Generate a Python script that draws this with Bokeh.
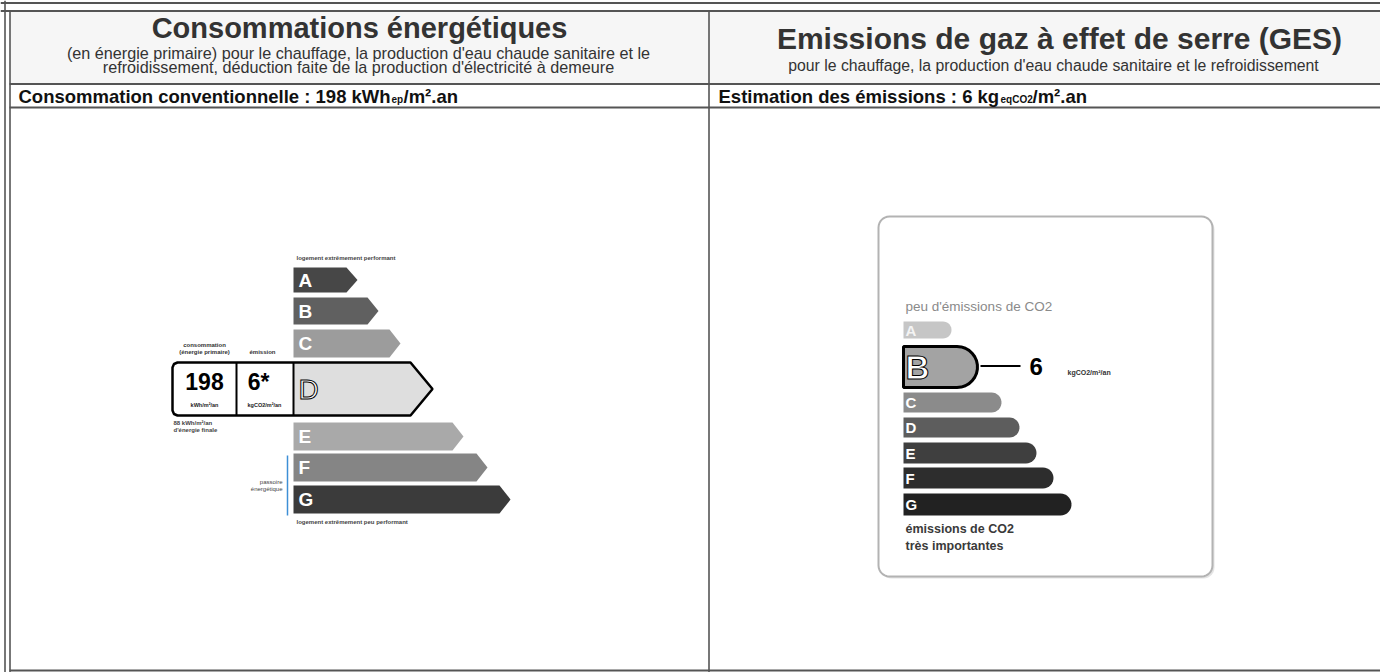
import numpy as np
from bokeh.plotting import figure
from bokeh.models import Range1d
from bokeh.core.properties import value
from bokeh.embed import file_html
from bokeh.resources import INLINE

# ---------------- data ----------------
classes = ["A", "B", "C", "D", "E", "F", "G"]
energy_limits = [50, 90, 150, 230, 330, 450, 10**9]   # kWh_ep/m².an
ges_limits = [5, 10, 20, 35, 55, 80, 10**9]            # kg_eqCO2/m².an
energy_value = 198
ges_value = 6
final_energy_text = "88 kWh/m²/an"

energy_class = next(c for c, l in zip(classes, energy_limits) if energy_value <= l)
ges_class = next(c for c, l in zip(classes, ges_limits) if ges_value <= l)

# ---------------- layout / style ----------------
FONT = value("Liberation Sans")
W, H = 1380, 672
p = figure(width=W, height=H, x_range=Range1d(0, W), y_range=Range1d(H, 0),
           output_backend="svg", toolbar_location=None, min_border=0)
p.axis.visible = False
p.grid.visible = False
p.outline_line_color = None
p.background_fill_color = "white"
p.border_fill_color = "white"


def txt(x, y, s, size, bold=False, color="#1a1a1a", align="left", **kw):
    p.text(x=[x], y=[y], text=[s], text_font=FONT, text_font_size=f"{size}px",
           text_font_style="bold" if bold else "normal", text_color=color,
           text_align=align, text_baseline="middle", **kw)


def rrect(x0, y0, x1, y1, r, n=8):
    xs, ys = [], []
    corners = [(x1 - r, y0 + r, -90, 0), (x1 - r, y1 - r, 0, 90),
               (x0 + r, y1 - r, 90, 180), (x0 + r, y0 + r, 180, 270)]
    for cx, cy, a0, a1 in corners:
        for a in np.linspace(np.radians(a0), np.radians(a1), n):
            xs.append(cx + r * np.cos(a)); ys.append(cy + r * np.sin(a))
    return xs, ys


# header background and frame lines
p.quad(left=[10], right=[W], top=[11], bottom=[83], fill_color="#f6f6f6", line_color=None)
p.segment(x0=[0, 0, 9, 9, 9], y0=[2.5, 10.5, 83.5, 107, 670], x1=[W] * 5, y1=[2.5, 10.5, 83.5, 107, 670],
          line_color="#555555", line_width=1.8)
p.segment(x0=[4.5, 9.5, 708.5], y0=[0, 10, 10], x1=[4.5, 9.5, 708.5], y1=[H, H, H],
          line_color="#555555", line_width=1.6)

# header texts
txt(359, 27, "Consommations énergétiques", 29, True, "#333333", "center")
txt(358, 52, "(en énergie primaire) pour le chauffage, la production d'eau chaude sanitaire et le",
    16.2, False, "#333333", "center")
txt(358, 66, "refroidissement, déduction faite de la production d'électricité à demeure",
    16.2, False, "#333333", "center")
txt(1059, 38, "Emissions de gaz à effet de serre (GES)", 30, True, "#333333", "center")
txt(1053, 65, "pour le chauffage, la production d'eau chaude sanitaire et le refroidissement",
    15.8, False, "#333333", "center")

# row 2 texts with subscripts
txt(18, 96, f"Consommation conventionnelle : {energy_value} kWh", 18.5, True, "#111111")
txt(391, 99, "ep", 10, True, "#111111")
txt(403, 96, "/m².an", 18.5, True, "#111111")
txt(718, 96, f"Estimation des émissions : {ges_value} kg", 18.5, True, "#111111")
txt(1000, 99, "eqCO2", 10, True, "#111111")
txt(1032, 96, "/m².an", 18.5, True, "#111111")

# ---------------- energy label (left) ----------------
e_top = [267, 297, 329, 362, 422, 453, 485]
e_bot = [292, 324, 357, 415, 450, 481, 513]
e_tip = [357, 378, 400, 432, 463, 487, 510]
e_col = ["#474747", "#606060", "#9c9c9c", "#dedede", "#a9a9a9", "#858585", "#3b3b3b"]
ex0 = 293
xs, ys, cols = [], [], []
for c, t, b, tip, col in zip(classes, e_top, e_bot, e_tip, e_col):
    d = 11 if c != energy_class else 22
    xs.append([ex0, tip - d, tip, tip - d, ex0])
    ys.append([t, t, (t + b) / 2, b, b])
    cols.append(col)
p.patches(xs=xs, ys=ys, fill_color=cols, line_color=None)

for c, t, b in zip(classes, e_top, e_bot):
    if c == energy_class:
        txt(298, (t + b) / 2, c, 28, False, "white", text_outline_color="black")
    else:
        txt(298, (t + b) / 2, c, 19, True, "white")

# box around selected class with value
ki = classes.index(energy_class)
t, b, tip = e_top[ki], e_bot[ki], e_tip[ki]
p.quad(left=[173.5], right=[292], top=[t + 1.5], bottom=[b - 1.5], fill_color="white", line_color=None)
ox = [177, tip - 22, tip, tip - 22, 177, 173.5, 172, 172, 173.5]
oy = [t, t, (t + b) / 2, b, b, b - 1.5, b - 5, t + 5, t + 1.5]
p.patch(x=ox, y=oy, fill_color=None, line_color="black", line_width=2.5)
p.segment(x0=[236, 293], y0=[t, t], x1=[236, 293], y1=[b, b], line_color="black", line_width=2)
txt(204, 381, str(energy_value), 23, True, "black", "center")
txt(258, 381, f"{ges_value}*", 23, True, "black", "center")
txt(204, 404, "kWh/m²/an", 5.5, True, "#222222", "center")
txt(264, 404, "kgCO2/m²/an", 5.5, True, "#222222", "center")
txt(204, 344, "consommation", 6, True, "#333333", "center")
txt(204, 351, "(énergie primaire)", 6, True, "#333333", "center")
txt(262, 351, "émission", 6, True, "#333333", "center")
txt(173, 422, final_energy_text, 6, True, "#444444")
txt(173, 429, "d'énergie finale", 6, True, "#444444")
txt(282, 481, "passoire", 6, False, "#444444", "right")
txt(282, 488, "énergétique", 6, False, "#444444", "right")
p.segment(x0=[287], y0=[455], x1=[287], y1=[515], line_color="#3d8fd6", line_width=1.5)
txt(296, 257, "logement extrêmement performant", 6, True, "#444444")
txt(296, 521, "logement extrêmement peu performant", 6, True, "#444444")

# ---------------- GES label (right) ----------------
sx, sy = rrect(880, 218, 1214, 578, 11)
p.patch(x=sx, y=sy, fill_color="#e4e4e4", line_color=None)
fx, fy = rrect(878, 216, 1212, 576, 11)
p.patch(x=fx, y=fy, fill_color="white", line_color="#b3b3b3", line_width=2)

g_top = [321, 346, 392, 417, 442, 467, 493]
g_bot = [338, 387, 412, 437, 463, 488, 515]
g_end = [951, 977, 1001, 1019, 1036, 1053, 1071]
g_col = ["#c6c6c6", "#a3a3a3", "#8b8b8b", "#5d5d5d", "#3f3f3f", "#2d2d2d", "#222222"]
gx0 = 903
xs, ys, cols = [], [], []
for c, t, b, e, col in zip(classes, g_top, g_bot, g_end, g_col):
    r = (b - t) / 2
    ang = np.linspace(-np.pi / 2, np.pi / 2, 16)
    cx = e - r
    px = [gx0] + list(cx + r * np.cos(ang)) + [gx0]
    py = [t] + list((t + b) / 2 + r * np.sin(ang)) + [b]
    xs.append(px); ys.append(py); cols.append(col)
p.patches(xs=xs, ys=ys, fill_color=cols, line_color=None)
gi = classes.index(ges_class)
p.patch(x=xs[gi], y=ys[gi], fill_color=None, line_color="black", line_width=3)
for c, t, b in zip(classes, g_top, g_bot):
    if c == ges_class:
        txt(905, (t + b) / 2, c, 33, True, "white", text_outline_color="black")
    else:
        txt(905, (t + b) / 2, c, 15, True, "white" if c != "A" else "#f4f4f4")
gm = (g_top[gi] + g_bot[gi]) / 2 - 1
p.segment(x0=[g_end[gi] + 3], y0=[gm], x1=[1020], y1=[gm], line_color="black", line_width=2)
txt(1029, gm, str(ges_value), 24, True, "black")
txt(1067, gm + 6, "kgCO2/m²/an", 7, True, "#333333")
txt(905, 306, "peu d'émissions de CO2", 13.5, False, "#8a8a8a")
txt(905, 528, "émissions de CO2", 12.5, True, "#3a3a3a")
txt(905, 545, "très importantes", 12.5, True, "#3a3a3a")

open("out.html", "w").write(file_html(p, INLINE))
